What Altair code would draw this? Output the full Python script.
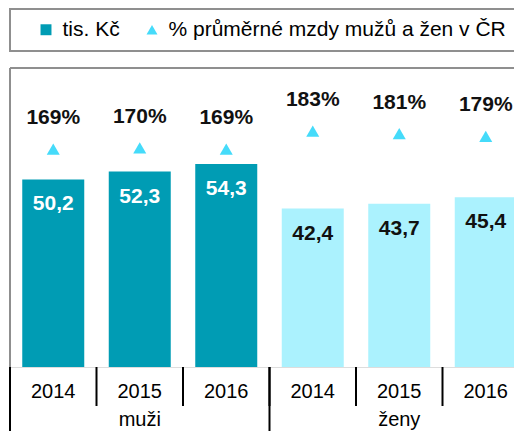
import altair as alt
import pandas as pd

# ---- data ----
groups = ["muži", "muži", "muži", "ženy", "ženy", "ženy"]
years = ["2014", "2015", "2016", "2014", "2015", "2016"]
wages = [50.2, 52.3, 54.3, 42.4, 43.7, 45.4]
pcts = [169, 170, 169, 183, 181, 179]
group_names = ["muži", "ženy"]
legend_items = ["tis. Kč", "% průměrné mzdy mužů a žen v ČR"]

DARK = "#009CB4"
LIGHT = "#ABF2FE"
CYAN = "#45DBFA"
FRAME = "#8F8F8F"
FONT = "Liberation Sans"

slots = list(range(len(years)))
df = pd.DataFrame({
    "group": groups,
    "year": years,
    "wage": wages,
    "wage_label": [f"{w:.1f}".replace(".", ",") for w in wages],
    "pct": pcts,
    "pct_label": [f"{p}%" for p in pcts],
    "xc": [s + 0.5 for s in slots],
})
bounds_df = pd.DataFrame({"b": list(range(len(years) + 1))})
grp_bounds_df = pd.DataFrame({"b": [0, 3, 6]})
grp_df = pd.DataFrame({"g": group_names, "gx": [1.5, 4.5]})
leg_df = pd.DataFrame({"series": legend_items})
one = pd.DataFrame({"k": [0]})

W, H = 504, 299
PT, PB = 60, 64
STEP = 86.5
xs = alt.Scale(domain=[0, W / STEP], nice=False, zero=False, padding=0)

bars = alt.Chart(df).mark_bar(size=62, clip=True).encode(
    x=alt.X("xc:Q", scale=xs, title=None,
            axis=alt.Axis(labels=False, ticks=False, grid=False, domainColor="black",
                          domainWidth=2, title=None)),
    y=alt.Y("wage:Q", scale=alt.Scale(domain=[0, 80]), axis=None),
    color=alt.Color("group:N", scale=alt.Scale(domain=group_names, range=[DARK, LIGHT]), legend=None),
)

bar_text = alt.Chart(df).mark_text(dy=25, baseline="middle", fontSize=21, fontWeight="bold", font=FONT).encode(
    x=alt.X("xc:Q", scale=xs, axis=None),
    y=alt.Y("wage:Q", scale=alt.Scale(domain=[0, 80]), axis=None),
    text="wage_label:N",
    color=alt.condition(alt.datum.group == "muži", alt.value("white"), alt.value("#111111")),
)

tri = alt.Chart(df).mark_point(shape="triangle-up", filled=True, size=170, opacity=1, color=CYAN).encode(
    x=alt.X("xc:Q", scale=xs, axis=None),
    y=alt.Y("pct:Q", scale=alt.Scale(domain=[0, 232]), axis=None),
)

pct_text = alt.Chart(df).mark_text(dy=-31, baseline="middle", fontSize=21, fontWeight="bold", font=FONT, color="#111111").encode(
    x=alt.X("xc:Q", scale=xs, axis=None),
    y=alt.Y("pct:Q", scale=alt.Scale(domain=[0, 232]), axis=None),
    text="pct_label:N",
)

year_text = alt.Chart(df).mark_text(baseline="middle", fontSize=20, font=FONT, color="black").encode(
    x=alt.X("xc:Q", scale=xs, axis=None),
    y=alt.value(H + 25),
    text="year:N",
)

year_sep = alt.Chart(bounds_df).mark_rule(color="black", strokeWidth=2).encode(
    x=alt.X("b:Q", scale=xs, axis=None),
    y=alt.value(H), y2=alt.value(H + 39),
)
grp_sep = alt.Chart(grp_bounds_df).mark_rule(color="black", strokeWidth=2).encode(
    x=alt.X("b:Q", scale=xs, axis=None),
    y=alt.value(H), y2=alt.value(H + PB + 5),
)
grp_text = alt.Chart(grp_df).mark_text(baseline="alphabetic", fontSize=20, font=FONT, color="black").encode(
    x=alt.X("gx:Q", scale=xs, axis=None),
    y=alt.value(H + 59),
    text="g:N",
)

top_line = alt.Chart(one).mark_rule(color=FRAME, strokeWidth=2).encode(
    x=alt.value(0), x2=alt.value(W + 20), y=alt.value(0))
left_line = alt.Chart(one).mark_rule(color=FRAME, strokeWidth=2).encode(
    x=alt.value(0), y=alt.value(0), y2=alt.value(H))

legend_box = alt.Chart(one).mark_rect(fillOpacity=0, stroke=FRAME, strokeWidth=2).encode(
    x=alt.value(0), x2=alt.value(W + 20), y=alt.value(-59), y2=alt.value(-17))

leg_props = dict(title=None, orient="none", legendX=25.5, legendY=-49,
                 direction="horizontal", labelFontSize=21, labelFont=FONT,
                 labelColor="black", symbolSize=120, symbolStrokeWidth=0,
                 symbolOpacity=1, labelOffset=6, columnPadding=21, padding=0,
                 labelLimit=600)
leg = alt.Chart(leg_df).mark_point(filled=True, clip=True, size=120).encode(
    x=alt.value(-100), y=alt.value(-100),
    fill=alt.Fill("series:N", scale=alt.Scale(domain=legend_items, range=[DARK, CYAN]),
                  legend=alt.Legend(**leg_props)),
    shape=alt.Shape("series:N", scale=alt.Scale(domain=legend_items, range=["square", "triangle-up"]),
                    legend=alt.Legend(**leg_props)),
)

chart = alt.layer(
    top_line, left_line, legend_box, bars, bar_text, tri, pct_text,
    year_text, year_sep, grp_sep, grp_text, leg
).resolve_scale(y="independent").properties(
    width=W, height=H,
    padding={"left": 2, "top": PT, "right": 0, "bottom": PB},
    autosize=alt.AutoSizeParams(type="none"),
).configure_view(stroke=None).configure(font=FONT, background="white")

chart.save("out.html", embed_options={"renderer": "svg", "actions": False})
